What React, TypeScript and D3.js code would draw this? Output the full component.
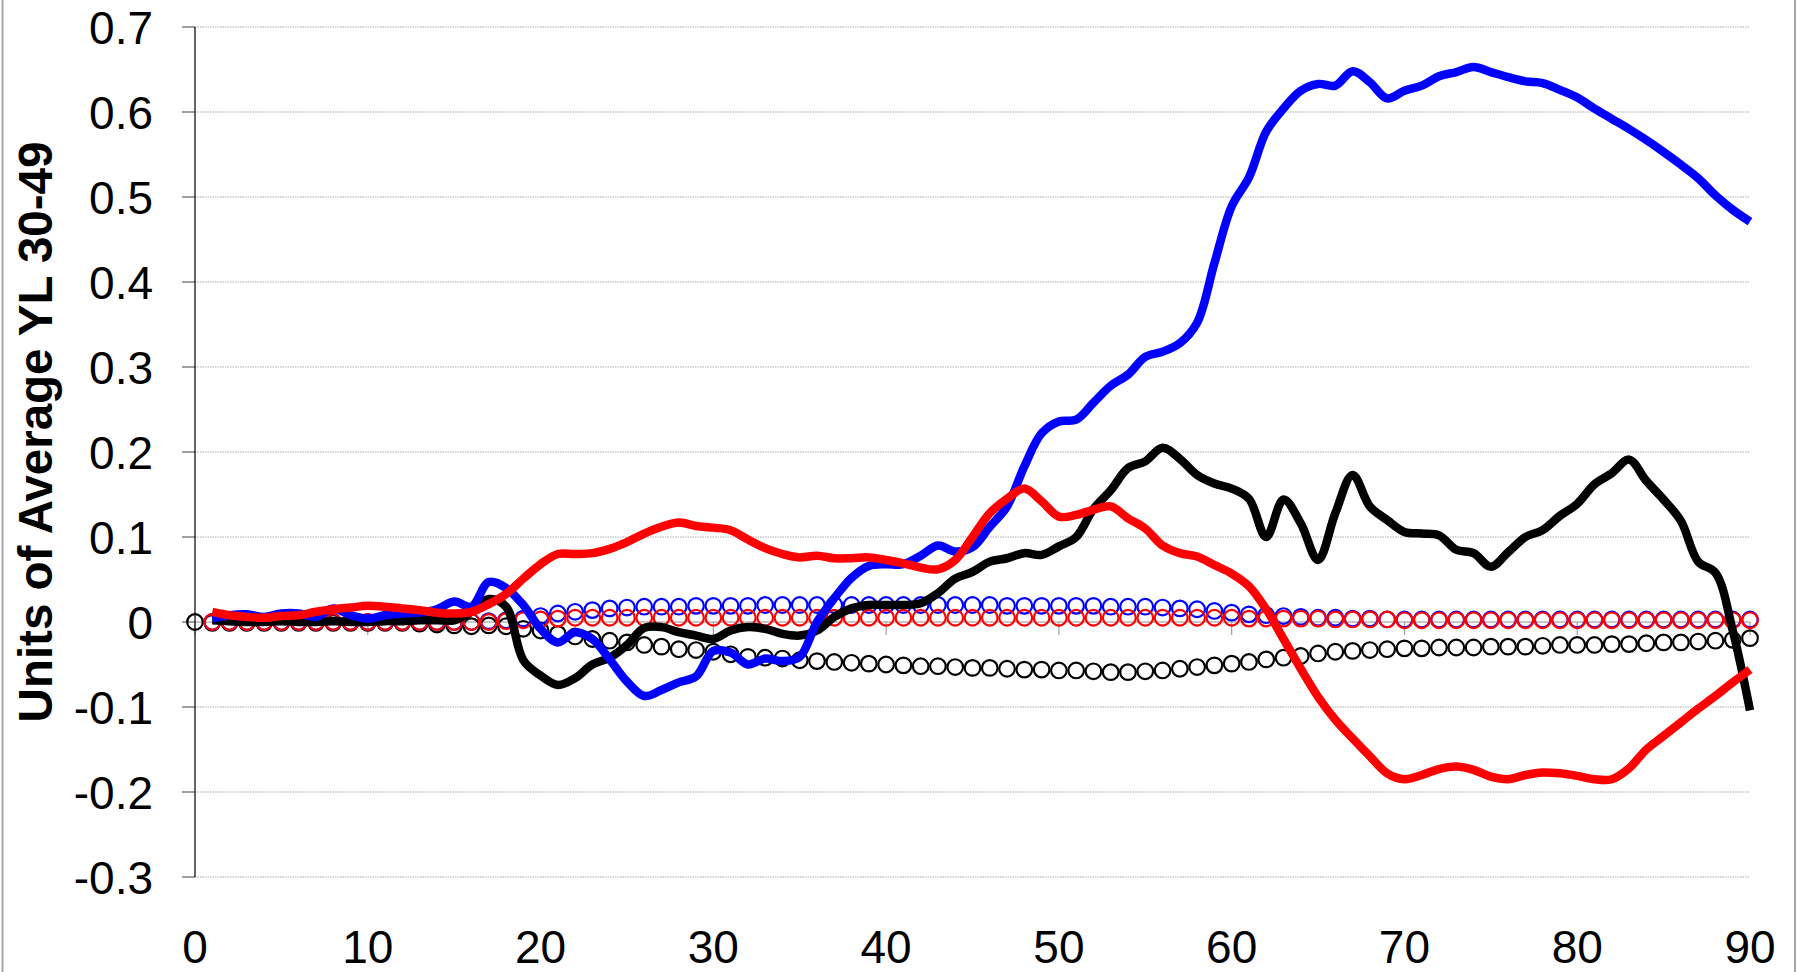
import React from "react";
import * as d3 from "d3";

const lineAges = d3.range(1, 91);
const circleAgesBlack = d3.range(0, 91);
const circleAgesColor = d3.range(1, 91);

const blueLine = [
  0.004, 0.008, 0.009, 0.006, 0.010, 0.010, 0.006, 0.016, 0.008, 0.004,
  0.008, 0.010, 0.011, 0.015, 0.024, 0.018, 0.047, 0.040, 0.020, -0.008,
  -0.024, -0.012, -0.020, -0.044, -0.070, -0.087, -0.080, -0.071, -0.064, -0.034,
  -0.036, -0.050, -0.043, -0.046, -0.041, 0.000, 0.028, 0.052, 0.066, 0.068,
  0.068, 0.078, 0.090, 0.083, 0.088, 0.112, 0.136, 0.183, 0.222, 0.236,
  0.238, 0.258, 0.278, 0.291, 0.312, 0.318, 0.328, 0.352, 0.422, 0.489,
  0.523, 0.577, 0.604, 0.625, 0.633, 0.631, 0.648, 0.635, 0.616, 0.625,
  0.631, 0.642, 0.647, 0.653, 0.647, 0.641, 0.636, 0.634, 0.626, 0.617,
  0.604, 0.592, 0.580, 0.567, 0.553, 0.538, 0.522, 0.502, 0.485, 0.471,
];

const blackLine = [
  0.002, 0.001, 0.000, 0.000, 0.001, 0.000, 0.000, 0.001, 0.000, 0.000,
  0.001, 0.001, 0.002, 0.002, 0.002, 0.012, 0.027, 0.018, -0.045, -0.063,
  -0.074, -0.066, -0.050, -0.042, -0.027, -0.007, -0.006, -0.012, -0.016, -0.020,
  -0.010, -0.006, -0.008, -0.014, -0.016, -0.010, 0.006, 0.016, 0.020, 0.020,
  0.020, 0.022, 0.034, 0.051, 0.059, 0.071, 0.075, 0.081, 0.079, 0.089,
  0.100, 0.133, 0.155, 0.181, 0.189, 0.205, 0.192, 0.173, 0.163, 0.157,
  0.145, 0.100, 0.144, 0.116, 0.073, 0.128, 0.173, 0.136, 0.120, 0.106,
  0.104, 0.102, 0.085, 0.081, 0.065, 0.082, 0.100, 0.108, 0.125, 0.139,
  0.162, 0.175, 0.191, 0.166, 0.144, 0.119, 0.071, 0.058, -0.010, -0.104,
];

const redLine = [
  0.012, 0.008, 0.006, 0.005, 0.007, 0.008, 0.012, 0.015, 0.017, 0.019,
  0.018, 0.016, 0.014, 0.011, 0.010, 0.012, 0.021, 0.033, 0.051, 0.068,
  0.080, 0.080, 0.081, 0.086, 0.094, 0.104, 0.112, 0.117, 0.113, 0.111,
  0.108, 0.097, 0.087, 0.080, 0.076, 0.078, 0.075, 0.075, 0.076, 0.073,
  0.069, 0.064, 0.062, 0.073, 0.100, 0.128, 0.145, 0.157, 0.142, 0.124,
  0.126, 0.132, 0.136, 0.122, 0.110, 0.090, 0.081, 0.077, 0.067, 0.057,
  0.042, 0.015, -0.020, -0.055, -0.088, -0.115, -0.137, -0.158, -0.178, -0.185,
  -0.180, -0.173, -0.170, -0.174, -0.182, -0.185, -0.180, -0.177, -0.178, -0.181,
  -0.185, -0.185, -0.172, -0.150, -0.134, -0.118, -0.102, -0.087, -0.071, -0.056,
];

const blackCircles = [
  0.000,
  -0.001, -0.001, -0.001, -0.001, -0.001, -0.001, -0.001, -0.001, -0.001, -0.001,
  -0.001, -0.001, -0.002, -0.003, -0.004, -0.005, -0.004, -0.005, -0.008, -0.010,
  -0.014, -0.017, -0.020, -0.022, -0.024, -0.027, -0.029, -0.032, -0.033, -0.035,
  -0.038, -0.041, -0.042, -0.043, -0.045, -0.046, -0.047, -0.048, -0.049, -0.050,
  -0.051, -0.052, -0.052, -0.053, -0.054, -0.054, -0.055, -0.056, -0.056, -0.057,
  -0.057, -0.058, -0.059, -0.059, -0.058, -0.057, -0.055, -0.053, -0.051, -0.049,
  -0.047, -0.044, -0.042, -0.040, -0.037, -0.035, -0.034, -0.033, -0.032, -0.031,
  -0.031, -0.030, -0.030, -0.030, -0.029, -0.029, -0.029, -0.028, -0.027, -0.027,
  -0.027, -0.026, -0.026, -0.025, -0.024, -0.024, -0.023, -0.022, -0.021, -0.019,
];

const blueCircles = [
  0.000, 0.000, 0.000, 0.000, 0.000, 0.000, 0.000, 0.000, 0.000, 0.000,
  0.000, 0.000, 0.000, 0.000, 0.000, 0.000, 0.001, 0.002, 0.004, 0.007,
  0.010, 0.012, 0.014, 0.016, 0.017, 0.018, 0.018, 0.018, 0.019, 0.019,
  0.019, 0.019, 0.020, 0.020, 0.020, 0.020, 0.020, 0.020, 0.020, 0.020,
  0.020, 0.020, 0.020, 0.020, 0.020, 0.020, 0.019, 0.019, 0.019, 0.019,
  0.019, 0.019, 0.018, 0.018, 0.018, 0.017, 0.016, 0.015, 0.013, 0.011,
  0.009, 0.008, 0.007, 0.006, 0.005, 0.005, 0.004, 0.004, 0.003, 0.003,
  0.003, 0.003, 0.003, 0.003, 0.003, 0.003, 0.003, 0.003, 0.003, 0.003,
  0.003, 0.003, 0.003, 0.003, 0.003, 0.003, 0.003, 0.003, 0.003, 0.003,
];

const redCircles = [
  0.000, 0.000, 0.000, 0.000, 0.000, 0.000, 0.000, 0.000, 0.000, 0.000,
  0.000, 0.000, 0.000, 0.000, 0.000, 0.000, 0.000, 0.001, 0.002, 0.003,
  0.004, 0.005, 0.005, 0.005, 0.005, 0.005, 0.005, 0.005, 0.005, 0.005,
  0.005, 0.005, 0.005, 0.005, 0.005, 0.005, 0.005, 0.005, 0.005, 0.005,
  0.005, 0.005, 0.005, 0.005, 0.005, 0.005, 0.005, 0.005, 0.005, 0.005,
  0.005, 0.005, 0.005, 0.005, 0.005, 0.005, 0.005, 0.005, 0.005, 0.005,
  0.004, 0.004, 0.004, 0.004, 0.004, 0.003, 0.003, 0.003, 0.003, 0.002,
  0.002, 0.002, 0.002, 0.002, 0.002, 0.002, 0.002, 0.002, 0.002, 0.002,
  0.002, 0.002, 0.002, 0.002, 0.002, 0.002, 0.002, 0.002, 0.002, 0.002,
];

const yTicks = [0.7, 0.6, 0.5, 0.4, 0.3, 0.2, 0.1, 0, -0.1, -0.2, -0.3];
const yTickLabels = ["0.7", "0.6", "0.5", "0.4", "0.3", "0.2", "0.1", "0", "-0.1", "-0.2", "-0.3"];
const xTicks = [0, 10, 20, 30, 40, 50, 60, 70, 80, 90];
const xTickLabels = ["0", "10", "20", "30", "40", "50", "60", "70", "80", "90"];
const yTitle = "Units of Average YL 30-49";

const W = 1797;
const H = 972;
const FONT = "'Liberation Sans', Arial, sans-serif";

export default function App() {
  const x = d3.scaleLinear().domain([0, 90]).range([195, 1750]);
  const y = d3.scaleLinear().domain([-0.3, 0.7]).range([877, 27]);

  const line = d3
    .line<[number, number]>()
    .x((d) => x(d[0]))
    .y((d) => y(d[1]))
    .curve(d3.curveCatmullRom.alpha(0.5));

  const mk = (vals: number[]) => lineAges.map((a, i) => [a, vals[i]] as [number, number]);

  const circles = (ages: number[], vals: number[], color: string, key: string) =>
    ages.map((a, i) => (
      <circle
        key={key + i}
        cx={x(a)}
        cy={y(vals[i])}
        r={7.8}
        fill="none"
        stroke={color}
        strokeWidth={2.2}
      />
    ));

  return (
    <div style={{ position: "absolute", left: 0, top: 0 }}>
      <svg width={W} height={H} style={{ display: "block", background: "#fff" }}>
        <rect x={0} y={0} width={W} height={H} fill="#fff" />
        {/* frame */}
        <line x1={2.5} x2={2.5} y1={0} y2={H} stroke="#a6a6a6" strokeWidth={2} />
        <line x1={1795} x2={1795} y1={0} y2={H} stroke="#a6a6a6" strokeWidth={2} />

        {/* gridlines */}
        {yTicks.map((t) =>
          t === 0 ? null : (
            <line
              key={"g" + t}
              x1={x(0)}
              x2={x(90)}
              y1={y(t)}
              y2={y(t)}
              stroke="#c8c8c8"
              strokeWidth={1.5}
              strokeDasharray="1.5 1"
            />
          )
        )}
        {/* y ticks */}
        {yTicks.map((t) => (
          <line key={"yt" + t} x1={182} x2={x(0)} y1={y(t)} y2={y(t)} stroke="#a0a0a0" strokeWidth={2} />
        ))}
        {/* x axis (zero line) */}
        <line x1={x(0)} x2={x(90)} y1={y(0)} y2={y(0)} stroke="#b4b4b4" strokeWidth={1.5} />
        {xTicks.map((t) => (
          <line key={"xt" + t} x1={x(t)} x2={x(t)} y1={y(0)} y2={y(0) + 13} stroke="#a0a0a0" strokeWidth={1.2} />
        ))}
        {/* y axis line */}
        <line x1={x(0)} x2={x(0)} y1={y(0.7)} y2={y(-0.3)} stroke="#000" strokeWidth={1.2} />

        {/* tick labels */}
        {yTicks.map((t, i) => (
          <text
            key={"yl" + t}
            x={153}
            y={y(t) + 16.5}
            textAnchor="end"
            fontFamily={FONT}
            fontSize={46}
            fill="#000"
          >
            {yTickLabels[i]}
          </text>
        ))}
        {xTicks.map((t, i) => (
          <text
            key={"xl" + t}
            x={x(t)}
            y={963}
            textAnchor="middle"
            fontFamily={FONT}
            fontSize={46}
            fill="#000"
          >
            {xTickLabels[i]}
          </text>
        ))}
        <text
          transform="translate(52,432) rotate(-90)"
          textAnchor="middle"
          fontFamily={FONT}
          fontWeight="bold"
          fontSize={47.5}
          fill="#000"
        >
          {yTitle}
        </text>

        {/* circle series */}
        {circles(circleAgesBlack, blackCircles, "#000", "bc")}
        {circles(circleAgesColor, blueCircles, "#0000ff", "uc")}
        {circles(circleAgesColor, redCircles, "#ff0000", "rc")}

        {/* line series */}
        <path d={line(mk(blackLine)) || ""} fill="none" stroke="#000" strokeWidth={8.5} strokeLinejoin="round" />
        <path d={line(mk(blueLine)) || ""} fill="none" stroke="#0000ff" strokeWidth={8.5} strokeLinejoin="round" />
        <path d={line(mk(redLine)) || ""} fill="none" stroke="#ff0000" strokeWidth={8.5} strokeLinejoin="round" />
      </svg>
    </div>
  );
}
